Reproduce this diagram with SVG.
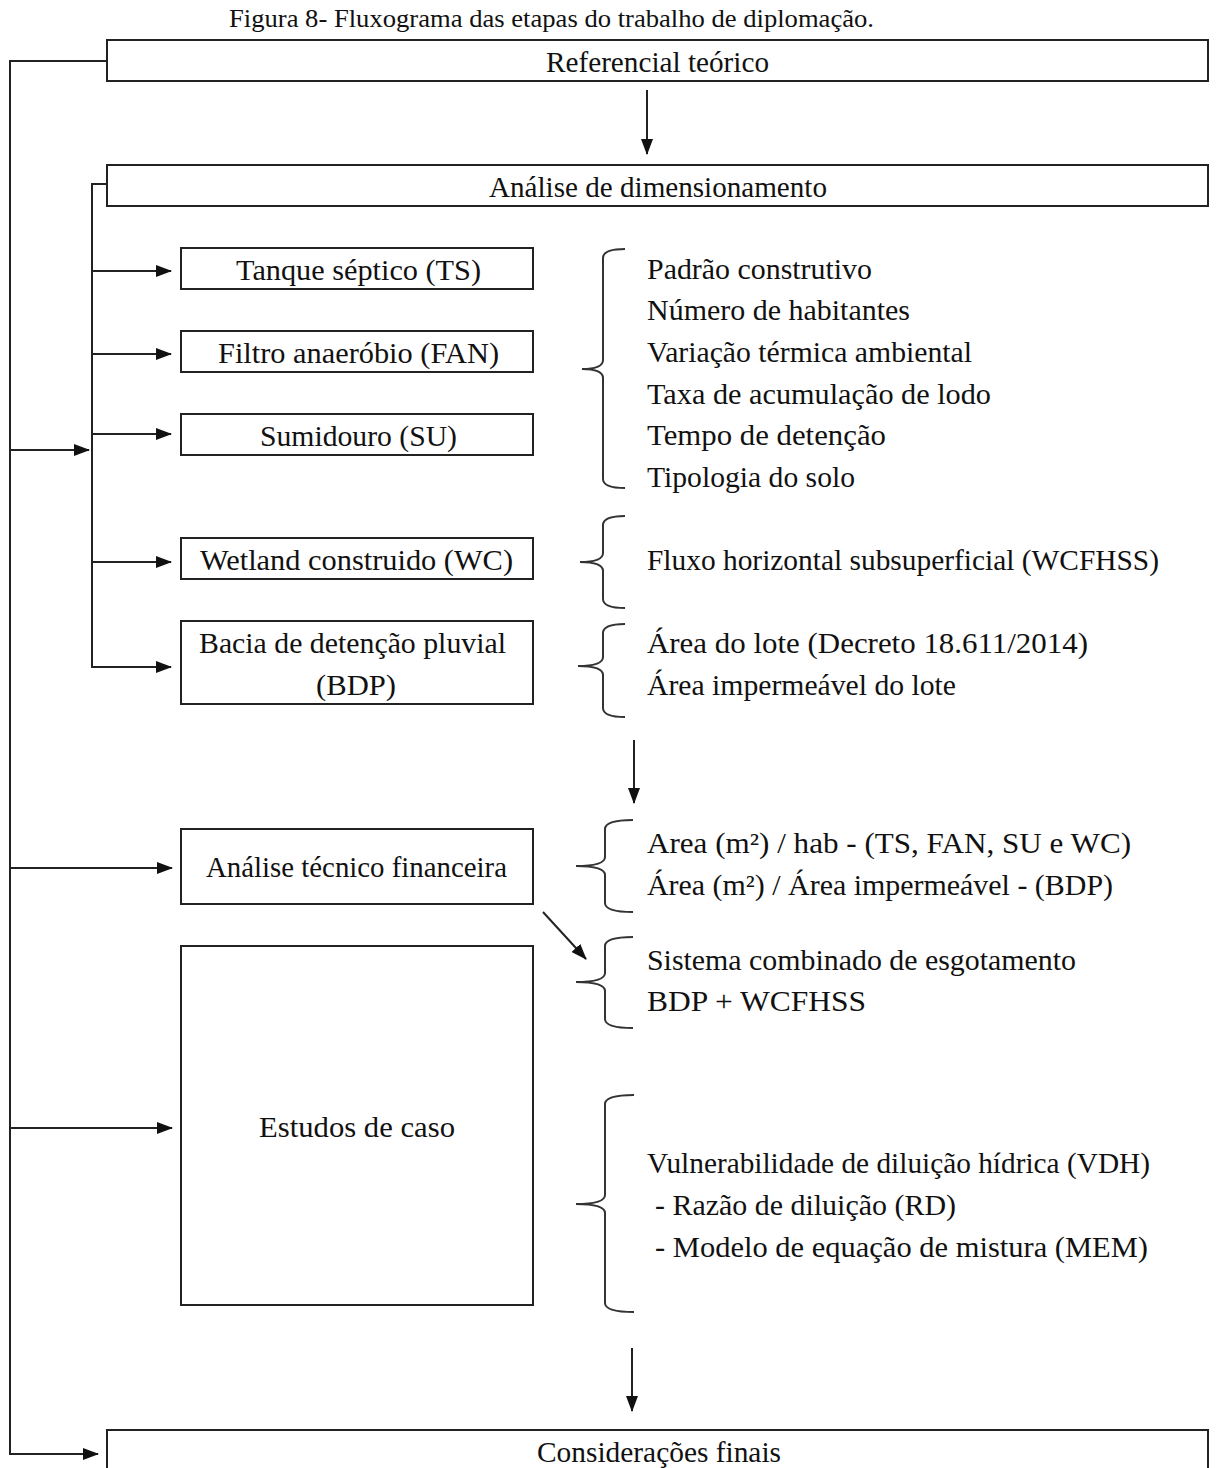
<svg xmlns="http://www.w3.org/2000/svg" width="1216" height="1468" viewBox="0 0 1216 1468">
<defs>
<style>
.t{font-family:"Liberation Serif","Times New Roman",serif;font-size:29px;fill:#111}
.ttl{font-family:"Liberation Serif","Times New Roman",serif;font-size:26px;fill:#111}
.box{fill:#fff;stroke:#222;stroke-width:2}
.ln{fill:none;stroke:#222;stroke-width:2}
.br{fill:none;stroke:#333;stroke-width:2}
</style>
<marker id="ah" markerUnits="userSpaceOnUse" markerWidth="16" markerHeight="12" refX="15" refY="6" orient="auto">
<path d="M0,0 L16,6 L0,12 z" fill="#111"/>
</marker>
</defs>
<rect width="1216" height="1468" fill="#fff"/>
<text class="ttl" x="229" y="27" textLength="645" lengthAdjust="spacingAndGlyphs">Figura 8- Fluxograma das etapas do trabalho de diplomação.</text>

<g id="connectors">
<path class="ln" d="M107,61 H10 V1454 H98" marker-end="url(#ah)"/>
<path class="ln" d="M10,450 H89" marker-end="url(#ah)"/>
<path class="ln" d="M10,868 H172" marker-end="url(#ah)"/>
<path class="ln" d="M10,1128 H172" marker-end="url(#ah)"/>
<path class="ln" d="M107,184 H92 V668"/>
<path class="ln" d="M92,271 H171" marker-end="url(#ah)"/>
<path class="ln" d="M92,354 H171" marker-end="url(#ah)"/>
<path class="ln" d="M92,434 H171" marker-end="url(#ah)"/>
<path class="ln" d="M92,562 H171" marker-end="url(#ah)"/>
<path class="ln" d="M92,667 H171" marker-end="url(#ah)"/>
<path class="ln" d="M647,90 V154" marker-end="url(#ah)"/>
<path class="ln" d="M634,740 V803" marker-end="url(#ah)"/>
<path class="ln" d="M632,1348 V1411" marker-end="url(#ah)"/>
<path class="ln" d="M543,912 L586,959" marker-end="url(#ah)"/>
</g>

<g id="braces">
<path class="br" d="M625,249 Q603,249 603,258 V360 Q603,369 582,369 Q603,369 603,378 V479 Q603,488 625,488"/>
<path class="br" d="M625,516 Q603,516 603,525 V553 Q603,562 580,562 Q603,562 603,571 V599 Q603,608 625,608"/>
<path class="br" d="M625,624 Q603,624 603,633 V657 Q603,666 578,666 Q603,666 603,675 V708 Q603,717 625,717"/>
<path class="br" d="M633,820 Q605,820 605,829 V857 Q605,866 576,866 Q605,866 605,875 V903 Q605,912 633,912"/>
<path class="br" d="M633,937 Q605,937 605,946 V973 Q605,982 576,982 Q605,982 605,991 V1019 Q605,1028 633,1028"/>
<path class="br" d="M634,1095 Q605,1095 605,1104 V1195 Q605,1204 576,1204 Q605,1204 605,1213 V1303 Q605,1312 634,1312"/>
</g>

<g id="n-referencial"><rect class="box" x="107" y="40" width="1101" height="41"/><text class="t" x="546" y="72" textLength="223" lengthAdjust="spacingAndGlyphs">Referencial teórico</text></g>
<g id="n-analise"><rect class="box" x="107" y="165" width="1101" height="41"/><text class="t" x="489" y="197" textLength="338" lengthAdjust="spacingAndGlyphs">Análise de dimensionamento</text></g>
<g id="n-ts"><rect class="box" x="181" y="248" width="352" height="41"/><text class="t" x="236" y="280" textLength="245" lengthAdjust="spacingAndGlyphs">Tanque séptico (TS)</text></g>
<g id="n-fan"><rect class="box" x="181" y="331" width="352" height="41"/><text class="t" x="218" y="363" textLength="281" lengthAdjust="spacingAndGlyphs">Filtro anaeróbio (FAN)</text></g>
<g id="n-su"><rect class="box" x="181" y="414" width="352" height="41"/><text class="t" x="260" y="446" textLength="197" lengthAdjust="spacingAndGlyphs">Sumidouro (SU)</text></g>
<g id="n-wc"><rect class="box" x="181" y="538" width="352" height="41"/><text class="t" x="200" y="570" textLength="313" lengthAdjust="spacingAndGlyphs">Wetland construido (WC)</text></g>
<g id="n-bdp"><rect class="box" x="181" y="621" width="352" height="83"/><text class="t" x="199" y="653" textLength="307" lengthAdjust="spacingAndGlyphs">Bacia de detenção pluvial</text><text class="t" x="316" y="695" textLength="80" lengthAdjust="spacingAndGlyphs">(BDP)</text></g>
<g id="n-atf"><rect class="box" x="181" y="829" width="352" height="75"/><text class="t" x="206" y="877" textLength="301" lengthAdjust="spacingAndGlyphs">Análise técnico financeira</text></g>
<g id="n-estudos"><rect class="box" x="181" y="946" width="352" height="359"/><text class="t" x="259" y="1137" textLength="196" lengthAdjust="spacingAndGlyphs">Estudos de caso</text></g>
<g id="n-consid"><rect class="box" x="107" y="1430" width="1101" height="50"/><text class="t" x="537" y="1462" textLength="244" lengthAdjust="spacingAndGlyphs">Considerações finais</text></g>

<g id="list-params">
<text class="t" x="647" y="279" textLength="225" lengthAdjust="spacingAndGlyphs">Padrão construtivo</text>
<text class="t" x="647" y="320" textLength="263" lengthAdjust="spacingAndGlyphs">Número de habitantes</text>
<text class="t" x="647" y="362" textLength="325" lengthAdjust="spacingAndGlyphs">Variação térmica ambiental</text>
<text class="t" x="647" y="404" textLength="344" lengthAdjust="spacingAndGlyphs">Taxa de acumulação de lodo</text>
<text class="t" x="647" y="445" textLength="239" lengthAdjust="spacingAndGlyphs">Tempo de detenção</text>
<text class="t" x="647" y="487" textLength="208" lengthAdjust="spacingAndGlyphs">Tipologia do solo</text>
</g>
<g id="list-wc"><text class="t" x="647" y="570" textLength="512" lengthAdjust="spacingAndGlyphs">Fluxo horizontal subsuperficial (WCFHSS)</text></g>
<g id="list-bdp">
<text class="t" x="647" y="653" textLength="441" lengthAdjust="spacingAndGlyphs">Área do lote (Decreto 18.611/2014)</text>
<text class="t" x="647" y="695" textLength="309" lengthAdjust="spacingAndGlyphs">Área impermeável do lote</text>
</g>
<g id="list-atf">
<text class="t" x="647" y="853" textLength="484" lengthAdjust="spacingAndGlyphs">Area (m²) / hab - (TS, FAN, SU e WC)</text>
<text class="t" x="647" y="895" textLength="466" lengthAdjust="spacingAndGlyphs">Área (m²) / Área impermeável - (BDP)</text>
</g>
<g id="list-sistema">
<text class="t" x="647" y="970" textLength="429" lengthAdjust="spacingAndGlyphs">Sistema combinado de esgotamento</text>
<text class="t" x="647" y="1011" textLength="219" lengthAdjust="spacingAndGlyphs">BDP + WCFHSS</text>
</g>
<g id="list-vdh">
<text class="t" x="647" y="1173" textLength="503" lengthAdjust="spacingAndGlyphs">Vulnerabilidade de diluição hídrica (VDH)</text>
<text class="t" x="655" y="1215" textLength="301" lengthAdjust="spacingAndGlyphs">- Razão de diluição (RD)</text>
<text class="t" x="655" y="1257" textLength="493" lengthAdjust="spacingAndGlyphs">- Modelo de equação de mistura (MEM)</text>
</g>
</svg>
